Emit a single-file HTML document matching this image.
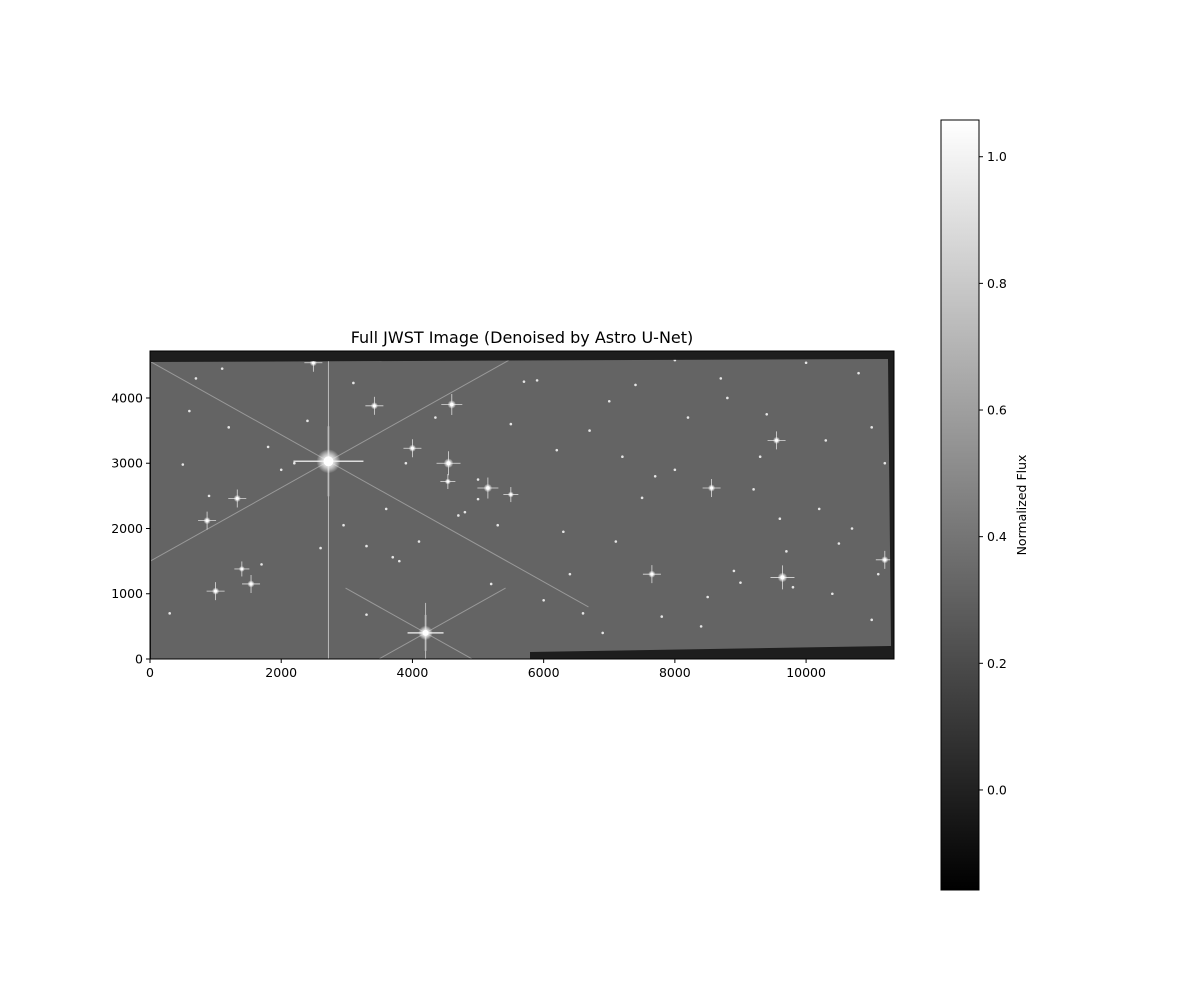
<!DOCTYPE html>
<html><head><meta charset="utf-8"><style>
body{margin:0;background:#fff;font-family:"Liberation Sans","DejaVu Sans",sans-serif;}
svg text{font-family:"DejaVu Sans","Liberation Sans",sans-serif;}
</style></head><body>
<svg id="chart" width="1200" height="1000" xmlns="http://www.w3.org/2000/svg">
<defs>
<linearGradient id="cb" x1="0" y1="1" x2="0" y2="0"><stop offset="0" stop-color="#000"/><stop offset="1" stop-color="#fff"/></linearGradient>
<radialGradient id="glow"><stop offset="0" stop-color="#fff"/><stop offset="0.5" stop-color="#eee" stop-opacity="0.8"/><stop offset="1" stop-color="#fff" stop-opacity="0"/></radialGradient>
<clipPath id="clipField"><polygon points="151,362 888,359 891,646 530,652 530,659 151,659"/></clipPath>
</defs>
<text x="522" y="343" font-size="16" text-anchor="middle">Full JWST Image (Denoised by Astro U-Net)</text>
<g id="plot"></g>
<g id="cbar"></g>
</svg>
<script>
const xTicks=[0,2000,4000,6000,8000,10000];
const yTicks=[0,1000,2000,3000,4000];
const cbTicks=[0.0,0.2,0.4,0.6,0.8,1.0];
const xMax=11340, yMax=4720, cbMin=-0.158, cbMax=1.058;
const bigX=[2720,4200,4550,9640,5150,4600,3420,4000,870,1000,1540,1330,2490,9550,11200,7650,8560,4540,1400,5500];
const bigY=[3030,400,3000,1250,2620,3900,3880,3230,2120,1040,1150,2460,4540,3350,1520,1300,2620,2720,1380,2520];
const bigS=[10,6,4,4,3.5,3.5,3,3,3,3,3,3,3,3,3,3,3,2.5,2.5,2.5];
const smX=[300,500,700,1200,1800,2000,2400,2950,3100,3300,3600,3800,4100,4350,4800,5000,5200,5700,5900,6200,6400,6600,6900,7200,7500,7800,8000,8200,8400,8800,9000,9200,9400,9700,10000,10200,10500,10800,11000,11200,600,900,1700,2200,3300,3700,5000,5300,6000,6700,7100,7400,8000,8500,8900,9300,9800,10300,10700,11100,1100,2600,3900,4700,5500,6300,7000,7700,8700,9600,10400,11000];
const smY=[700,2980,4300,3550,3250,2900,3650,2050,4230,1730,2300,1500,1800,3700,2250,2450,1150,4250,4270,3200,1300,700,400,3100,2470,650,4580,3700,500,4000,1170,2600,3750,1650,4540,2300,1770,4380,600,3000,3800,2500,1450,3000,680,1560,2750,2050,900,3500,1800,4200,2900,950,1350,3100,1100,3350,2000,1300,4450,1700,3000,2200,3600,1950,3950,2800,4300,2150,1000,3550];
const P={x0:150,x1:894,y0:659,y1:351};
const sx=v=>P.x0+v/xMax*(P.x1-P.x0);
const sy=v=>P.y0-v/yMax*(P.y0-P.y1);
const NS="http://www.w3.org/2000/svg";
function mk(t,a,p){const e=document.createElementNS(NS,t);for(const k in a)e.setAttribute(k,a[k]);p.appendChild(e);return e;}
const g=document.getElementById('plot');
const bg=mk('rect',{x:P.x0,y:P.y1,width:P.x1-P.x0,height:P.y0-P.y1,fill:'#1e1e1e'},g);


const field=mk('polygon',{points:`151,362 888,359 891,646 530,652 530,659 151,659`,fill:'#646464'},g);


const stars=mk('g',{'clip-path':'url(#clipField)'},g);
smX.forEach((x,i)=>{const c=mk('circle',{cx:sx(x),cy:sy(smY[i]),r:1.3,fill:'#e6e6e6'},stars);

});
bigX.forEach((x,i)=>{const cx=sx(x),cy=sy(bigY[i]),s=bigS[i];
const grp=mk('g',{},stars);


const L=s>8?s*3.5:s*3;
mk('line',{x1:cx-L,y1:cy,x2:cx+L,y2:cy,stroke:'#ddd','stroke-width':s>5?1.5:0.8},grp);
mk('line',{x1:cx,y1:cy-L,x2:cx,y2:cy+L,stroke:'#ddd','stroke-width':s>5?1.5:0.8},grp);
if(s>5){const D=s>8?260:80;
mk('line',{x1:cx,y1:cy-(s>8?120:30),x2:cx,y2:cy+(s>8?400:40),stroke:'#bbb','stroke-width':1},grp);
mk('line',{x1:cx-D,y1:cy-D*0.56,x2:cx+D,y2:cy+D*0.56,stroke:'#999','stroke-width':1},grp);
mk('line',{x1:cx-D,y1:cy+D*0.56,x2:cx+D,y2:cy-D*0.56,stroke:'#999','stroke-width':1},grp);}
mk('circle',{cx,cy,r:s*1.2,fill:'url(#glow)'},grp);
mk('circle',{cx,cy,r:s*0.5,fill:'#fff'},grp);});
const fr=mk('rect',{x:P.x0,y:P.y1,width:P.x1-P.x0,height:P.y0-P.y1,fill:'none',stroke:'#000','stroke-width':1},g);


xTicks.forEach(v=>{const x=sx(v);mk('line',{x1:x,y1:P.y0,x2:x,y2:P.y0+4,stroke:'#000'},g);
const t=mk('text',{x:x,y:P.y0+18,'font-size':12.5,'text-anchor':'middle'},g);t.textContent=v;

});
yTicks.forEach(v=>{const y=sy(v);mk('line',{x1:P.x0-4,y1:y,x2:P.x0,y2:y,stroke:'#000'},g);
const t=mk('text',{x:P.x0-7,y:y+4.5,'font-size':12.5,'text-anchor':'end'},g);t.textContent=v;

});
const cb=document.getElementById('cbar');
const C={x0:941,x1:979,y0:890,y1:120};
const cy=v=>C.y0-(v-cbMin)/(cbMax-cbMin)*(C.y0-C.y1);
const cr=mk('rect',{x:C.x0,y:C.y1,width:C.x1-C.x0,height:C.y0-C.y1,fill:'url(#cb)',stroke:'#000','stroke-width':1},cb);


cbTicks.forEach(v=>{const y=cy(v);mk('line',{x1:C.x1,y1:y,x2:C.x1+4,y2:y,stroke:'#000'},cb);
const t=mk('text',{x:C.x1+8,y:y+4.5,'font-size':12.5},cb);t.textContent=v.toFixed(1);

});
const lab=mk('text',{x:1026,y:505,'font-size':12.5,'text-anchor':'middle',transform:'rotate(-90 1026 505)'},cb);
lab.textContent='Normalized Flux';


</script>
</body></html>
